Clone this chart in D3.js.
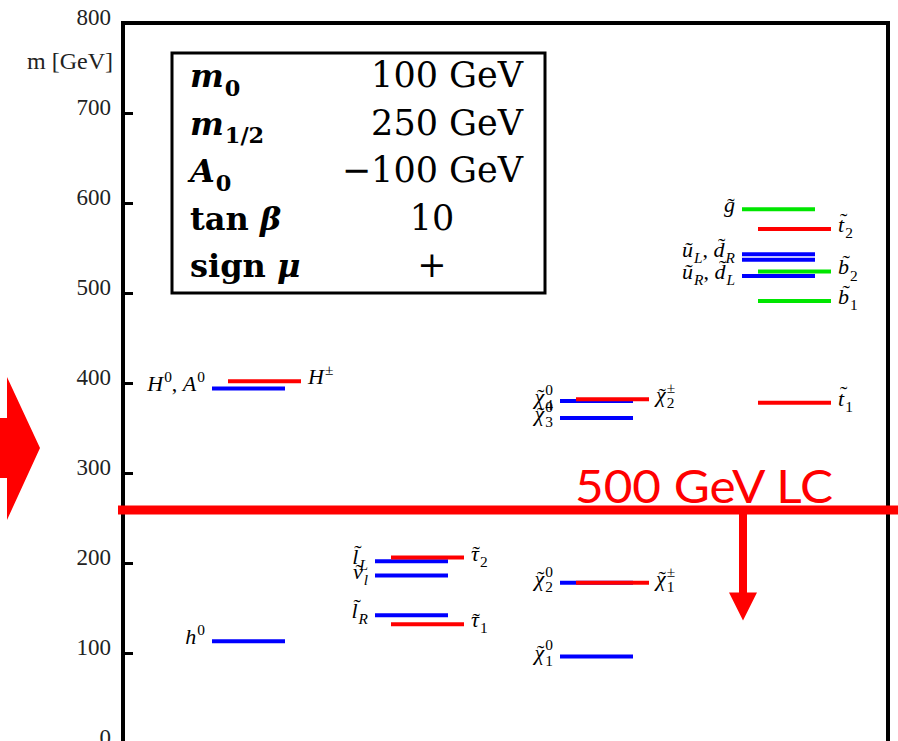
<!DOCTYPE html>
<html>
<head>
<meta charset="utf-8">
<script src="https://cdn.jsdelivr.net/npm/d3@7"></script>
<style>
body { margin: 0; background: #fff; }
text { white-space: pre; }
</style>
</head>
<body>
<div id="chart"></div>
<script>
// mass axis ticks (GeV)
var massTicks = [0, 100, 200, 300, 400, 500, 600, 700, 800];

// columns of the spectrum, left to right
var groups = ["higgs", "sleptons", "gauginos", "squarks"];

// one entry per level, masses
var levelMass  = [113, 394, 402,  202, 206, 186, 142, 132,  380, 382, 361, 178, 178, 96,  593, 571, 543, 537, 524, 519, 491, 378];
var levelGroup = ["higgs", "higgs", "higgs",
                  "sleptons", "sleptons", "sleptons", "sleptons", "sleptons",
                  "gauginos", "gauginos", "gauginos", "gauginos", "gauginos", "gauginos",
                  "squarks", "squarks", "squarks", "squarks", "squarks", "squarks", "squarks", "squarks"];
var levelKind  = ["neutral", "neutral", "charged",
                  "neutral", "charged", "neutral", "neutral", "charged",
                  "neutral", "charged", "neutral", "neutral", "charged", "neutral",
                  "strong", "charged", "neutral", "neutral", "strong", "neutral", "strong", "charged"];
var levelLane  = [0, 0, 1,  0, 1, 0, 0, 1,  0, 1, 0, 0, 1, 0,  0, 1, 0, 0, 1, 0, 1, 1];
var levelLabel = ["h^0", "H^0, A^0", "H^±",
                  "l̃_L", "τ̃_2", "ν̃_l", "l̃_R", "τ̃_1",
                  "χ̃^0_4", "χ̃^±_2", "χ̃^0_3", "χ̃^0_2", "χ̃^±_1", "χ̃^0_1",
                  "g̃", "t̃_2", "ũ_L, d̃_R", "", "b̃_2", "ũ_R, d̃_L", "b̃_1", "t̃_1"];
var levelSide  = ["left", "left", "right",
                  "left", "right", "left", "left", "right",
                  "left", "right", "left", "left", "right", "left",
                  "left", "right", "left", "left", "right", "left", "right", "right"];

// mSUGRA point
var paramSymbols = ["m_0", "m_{1/2}", "A_0", "tan β", "sign μ"];
var paramValues  = ["100 GeV", "250 GeV", "−100 GeV", "10", "+"];

// reach of the 500 GeV collider
var lcMass = 259;
var lcArrowEnd = 136;

var width = 898, height = 741;

var svg = d3.select("#chart").append("svg")
    .attr("width", width)
    .attr("height", height);

var y = d3.scaleLinear().domain([0, 800]).range([743, 23]);
var xLeft = d3.scaleOrdinal().domain(groups).range([212, 375, 560, 742]);
var color = d3.scaleOrdinal().domain(["neutral", "charged", "strong"]).range(["#0000ff", "#ff0000", "#00e600"]);
var laneShift = 16, lineLen = 73;
var TILDE = "\u0303";

function parse(s) {
    var atoms = [], i = 0;
    while (i < s.length) {
        var c = s[i];
        if (c === "^" || c === "_") {
            var v = s[i + 1], n = 2;
            if (v === "{") { var j = s.indexOf("}", i); v = s.slice(i + 2, j); n = j - i + 1; }
            var a = atoms[atoms.length - 1];
            if (c === "^") a.sup = v; else a.sub = v;
            i += n;
        } else {
            var last = atoms[atoms.length - 1];
            if (!last || last.sup || last.sub) { last = {base: "", sup: "", sub: ""}; atoms.push(last); }
            last.base += c;
            i++;
        }
    }
    return atoms;
}

// draws a small TeX-like label, x/y is the baseline anchor point
function mathLabel(sel, str, x, yy, anchor, size, font, weight) {
    var g = sel.append("g").attr("font-family", font).attr("fill", "#000");
    var cx = 0;
    parse(str).forEach(function(a) {
        a.base.split(/(tan|sign|, )/).forEach(function(p) {
            if (!p) return;
            var roman = p === "tan" || p === "sign" || /^[\s,0-9+]+$/.test(p);
            if (roman || p.indexOf(TILDE) < 0) {
                var t = g.append("text").attr("x", cx).attr("y", 0)
                    .attr("font-size", size)
                    .attr("font-style", roman ? "normal" : "italic")
                    .attr("font-weight", weight)
                    .text(p);
                cx += t.node().getComputedTextLength();
                return;
            }
            // letters with a tilde: draw the accent by hand
            for (var k = 0; k < p.length; k++) {
                var ch = p[k];
                if (ch === TILDE) continue;
                var t2 = g.append("text").attr("x", cx).attr("y", 0)
                    .attr("font-size", size).attr("font-style", "italic")
                    .attr("font-weight", weight).text(ch);
                var w = t2.node().getComputedTextLength();
                if (p[k + 1] === TILDE) {
                    var tall = /[lbdt]/.test(ch);
                    g.append("text")
                        .attr("x", cx + w / 2 + size * (tall ? 0.12 : 0.06))
                        .attr("y", tall ? -size * 0.2 : size * 0.02)
                        .attr("text-anchor", "middle")
                        .attr("font-size", size)
                        .text("\u02DC");
                }
                cx += w;
            }
        });
        var w = 0;
        [["sup", -0.42], ["sub", 0.28]].forEach(function(k) {
            var v = a[k[0]];
            if (!v) return;
            var t = g.append("text").attr("x", cx + 1).attr("y", size * k[1])
                .attr("font-size", size * 0.7)
                .attr("font-style", /^[0-9±\/]+$/.test(v) ? "normal" : "italic")
                .attr("font-weight", weight)
                .text(v);
            w = Math.max(w, t.node().getComputedTextLength() + 1);
        });
        cx += w;
    });
    var shift = anchor === "end" ? -cx : anchor === "middle" ? -cx / 2 : 0;
    g.attr("transform", "translate(" + (x + shift) + "," + yy + ")");
}

// frame
svg.append("rect")
    .attr("x", 123).attr("y", 23)
    .attr("width", 765).attr("height", 722)
    .attr("fill", "none").attr("stroke", "#000").attr("stroke-width", 4);

// axis
var axis = svg.append("g")
    .attr("transform", "translate(123,0)")
    .call(d3.axisLeft(y).tickValues(massTicks).tickSize(-10).tickPadding(12).tickFormat(d3.format("d")));
axis.select(".domain").remove();
axis.selectAll(".tick line").attr("stroke", "#000").attr("stroke-width", 3);
axis.selectAll(".tick text")
    .attr("font-family", "Liberation Serif, serif")
    .attr("font-size", 23)
    .attr("fill", "#222")
    .attr("dy", "0.05em");

svg.append("text")
    .attr("x", 113).attr("y", 69)
    .attr("text-anchor", "end")
    .attr("font-family", "Liberation Serif, serif")
    .attr("font-size", 24)
    .attr("fill", "#222")
    .text("m [GeV]");

// parameter box
var rowY = d3.scalePoint().domain(paramSymbols).range([87, 277]);
svg.append("rect")
    .attr("x", 172).attr("y", 53)
    .attr("width", 373).attr("height", 240)
    .attr("fill", "#fff").attr("stroke", "#000").attr("stroke-width", 3);
paramSymbols.forEach(function(s, i) {
    mathLabel(svg, s, 190, rowY(s), "start", 32, "DejaVu Serif, serif", "bold");
    var v = paramValues[i];
    var gev = v.indexOf("GeV") >= 0;
    svg.append("text")
        .attr("x", gev ? 523 : 432)
        .attr("y", rowY(s))
        .attr("text-anchor", gev ? "end" : "middle")
        .attr("font-family", "DejaVu Serif, serif")
        .attr("font-size", 35)
        .attr("fill", "#000")
        .text(v);
});

// levels
var levels = levelMass.map(function(m, i) {
    return {mass: m, group: levelGroup[i], kind: levelKind[i], lane: levelLane[i],
            label: levelLabel[i], side: levelSide[i]};
});

svg.selectAll(".level")
    .data(levels)
    .enter().append("line")
    .attr("class", "level")
    .attr("x1", function(d) { return xLeft(d.group) + d.lane * laneShift; })
    .attr("x2", function(d) { return xLeft(d.group) + d.lane * laneShift + lineLen; })
    .attr("y1", function(d) { return y(d.mass); })
    .attr("y2", function(d) { return y(d.mass); })
    .attr("stroke", function(d) { return color(d.kind); })
    .attr("stroke-width", 4);

levels.forEach(function(d) {
    if (!d.label) return;
    var x0 = xLeft(d.group) + d.lane * laneShift;
    if (d.side === "left")
        mathLabel(svg, d.label, x0 - 7, y(d.mass) + 3, "end", 22, "Liberation Serif, serif", "normal");
    else
        mathLabel(svg, d.label, x0 + lineLen + 7, y(d.mass) + 3, "start", 22, "Liberation Serif, serif", "normal");
});

// 500 GeV LC reach
var red = "#ff0000";
svg.append("line")
    .attr("x1", 118).attr("x2", 898)
    .attr("y1", y(lcMass)).attr("y2", y(lcMass))
    .attr("stroke", red).attr("stroke-width", 9);

svg.append("line")
    .attr("x1", 743).attr("x2", 743)
    .attr("y1", y(lcMass)).attr("y2", y(lcArrowEnd) - 26)
    .attr("stroke", red).attr("stroke-width", 8);
svg.append("path")
    .attr("d", d3.line()([[729, y(lcArrowEnd) - 28], [757, y(lcArrowEnd) - 28], [743, y(lcArrowEnd)]]) + "Z")
    .attr("fill", red);

svg.append("path")
    .attr("d", d3.line()([[0, 418], [7, 418], [7, 377], [40, 448], [7, 520], [7, 478], [0, 478]]) + "Z")
    .attr("fill", red);

svg.append("text")
    .attr("x", 575).attr("y", 503)
    .attr("font-family", "Comic Sans MS, Lato, sans-serif")
    .attr("font-size", 46)
    .attr("textLength", 258)
    .attr("lengthAdjust", "spacingAndGlyphs")
    .attr("fill", red)
    .text("500 GeV LC");
</script>
</body>
</html>
